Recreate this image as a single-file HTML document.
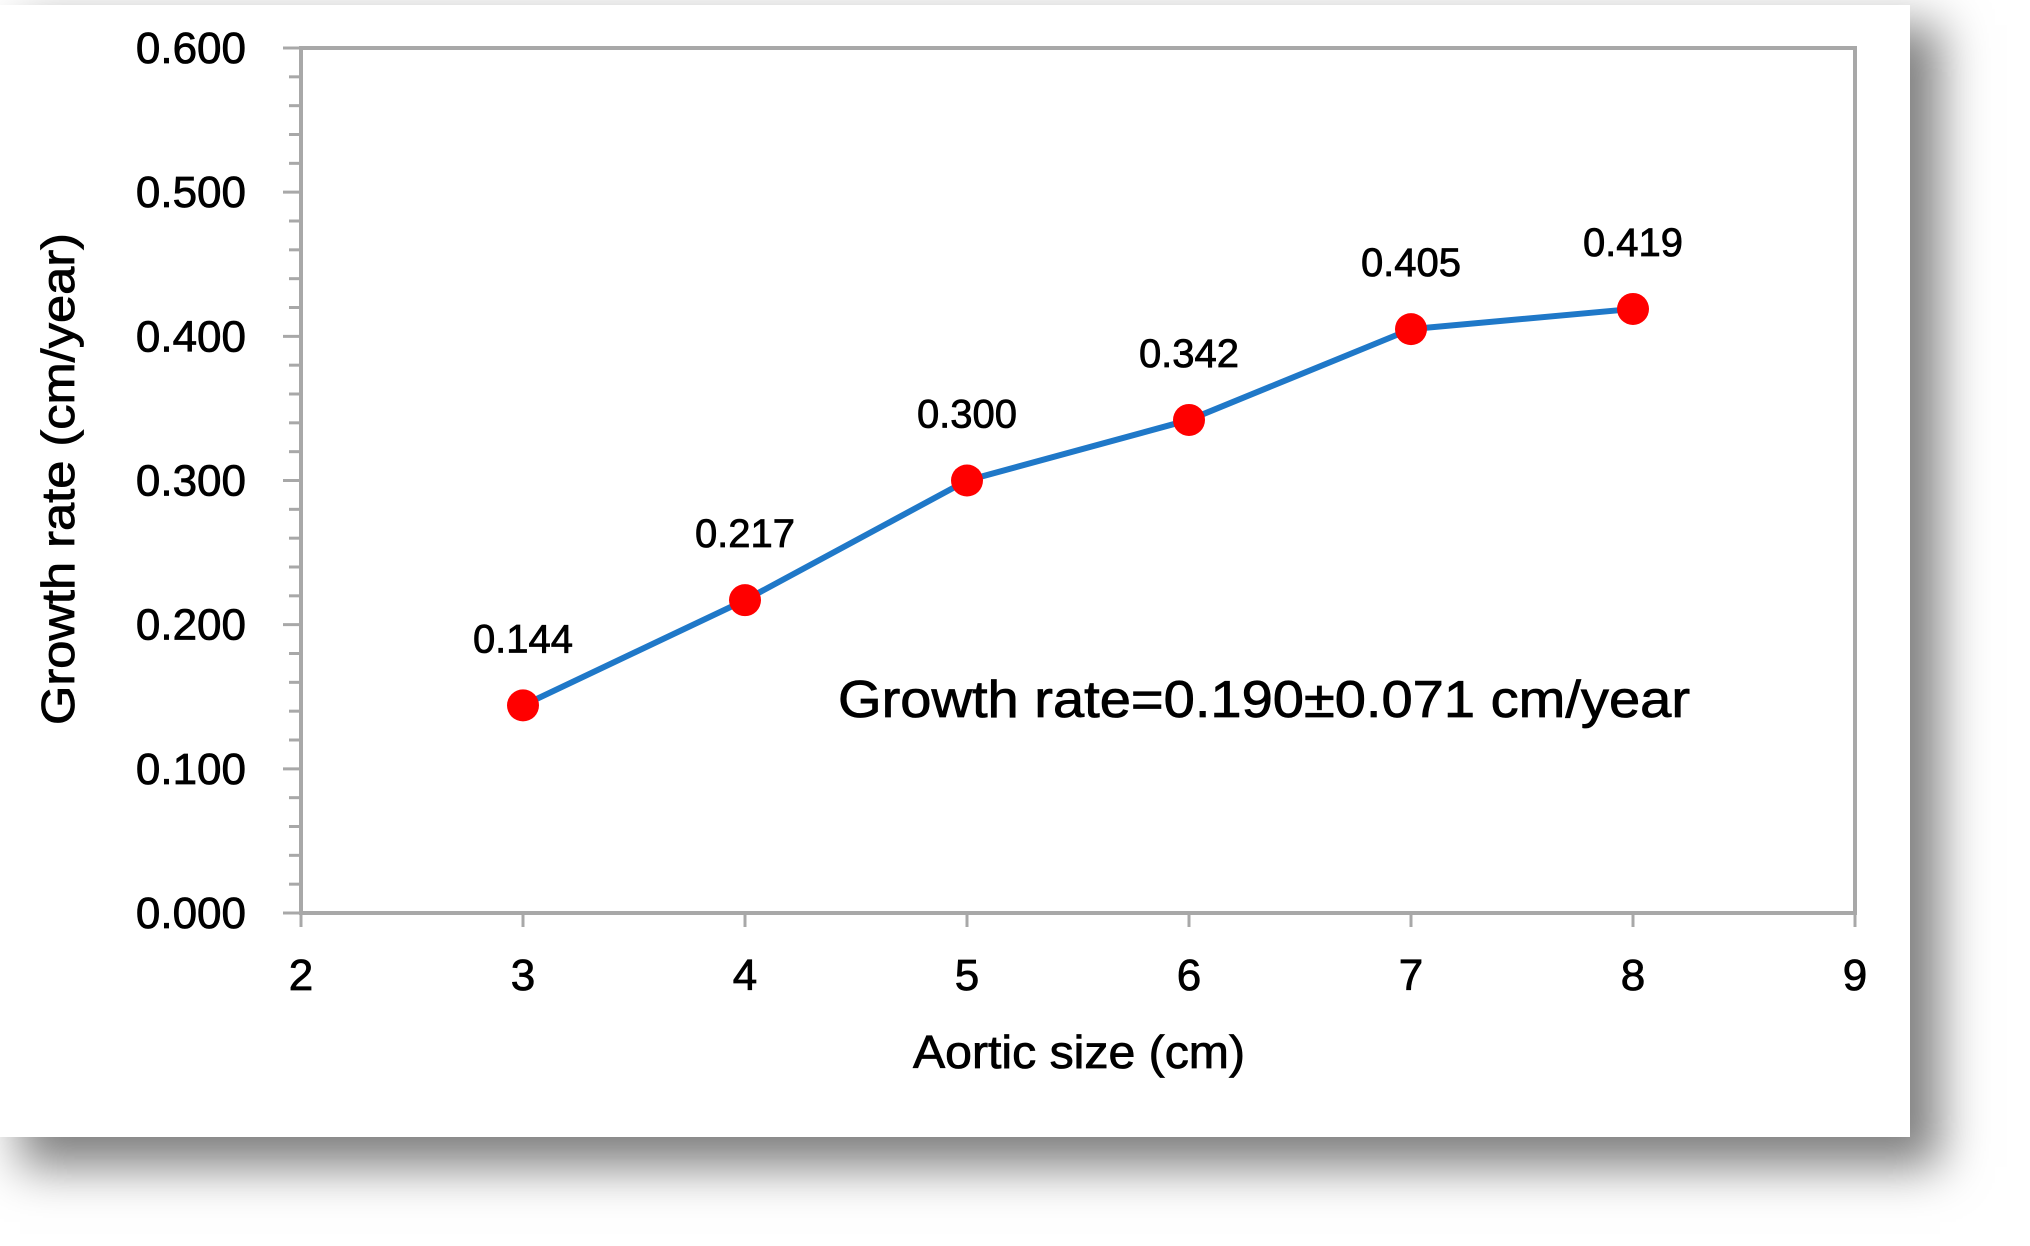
<!DOCTYPE html>
<html><head><meta charset="utf-8"><style>
html,body{margin:0;padding:0;background:#fff;width:2030px;height:1246px;overflow:hidden}
#panel{position:absolute;left:0;top:5px;width:1910px;height:1132px;background:#fff;box-shadow:25px 25px 45px 5px rgba(0,0,0,0.5)}
svg{position:absolute;left:0;top:0}
text{font-family:"Liberation Sans",sans-serif;fill:#000;stroke:#000;stroke-width:0.8px}
</style></head><body>
<div id="panel"></div>
<svg id="chart" width="2030" height="1246"></svg>
<script>
const categories=[3,4,5,6,7,8];
const values=[0.144,0.217,0.300,0.342,0.405,0.419];
const valueLabels=["0.144","0.217","0.300","0.342","0.405","0.419"];
const xTicks=[2,3,4,5,6,7,8,9];
const yTicks=[0,0.1,0.2,0.3,0.4,0.5,0.6];
const yTickLabels=["0.000","0.100","0.200","0.300","0.400","0.500","0.600"];
const L=301,R=1855,T=48,B=913;
const X=v=>L+(v-2)/7*(R-L);
const Y=v=>B-v/0.6*(B-T);
const svg=document.getElementById('chart');
const NS='http://www.w3.org/2000/svg';
function mk(tag,attrs,txt){const e=document.createElementNS(NS,tag);for(const k in attrs)e.setAttribute(k,attrs[k]);if(txt!==undefined)e.textContent=txt;svg.appendChild(e);return e;}
let f=mk('rect',{x:L,y:T,width:R-L,height:B-T,fill:'none',stroke:'#a8a8a8','stroke-width':4});


for(let i=0;i<=30;i++){const v=i*0.02;const t=mk('line',{x1:L-(i%5===0?18:12),x2:L,y1:Y(v),y2:Y(v),stroke:'#a8a8a8','stroke-width':3});

}
yTicks.forEach((v,i)=>{const t=mk('text',{x:246,y:Y(v)+15,'text-anchor':'end','font-size':44},yTickLabels[i]);

});
xTicks.forEach(v=>{const l=mk('line',{x1:X(v),x2:X(v),y1:B,y2:B+14,stroke:'#a8a8a8','stroke-width':3});


const t=mk('text',{x:X(v),y:990,'text-anchor':'middle','font-size':44},String(v));

});
const pts=categories.map((c,i)=>X(c)+','+Y(values[i])).join(' ');
const pl=mk('polyline',{points:pts,fill:'none',stroke:'#1f78c8','stroke-width':6,'stroke-linejoin':'round'});


categories.forEach((c,i)=>{const m=mk('circle',{cx:X(c),cy:Y(values[i]),r:16,fill:'#f00'});


const t=mk('text',{x:X(c),y:Y(values[i])-53,'text-anchor':'middle','font-size':40,'stroke-width':0.4},valueLabels[i]);

});
let a=mk('text',{x:838,y:717,'font-size':52,textLength:852,lengthAdjust:'spacingAndGlyphs'},'Growth rate=0.190±0.071 cm/year');


let xt=mk('text',{x:1079,y:1068,'text-anchor':'middle','font-size':46,textLength:332,lengthAdjust:'spacingAndGlyphs'},'Aortic size (cm)');


let yt=mk('text',{x:0,y:0,'text-anchor':'middle','font-size':46,textLength:492,lengthAdjust:'spacingAndGlyphs',transform:'translate(74,479) rotate(-90)'},'Growth rate (cm/year)');


</script>
</body></html>
